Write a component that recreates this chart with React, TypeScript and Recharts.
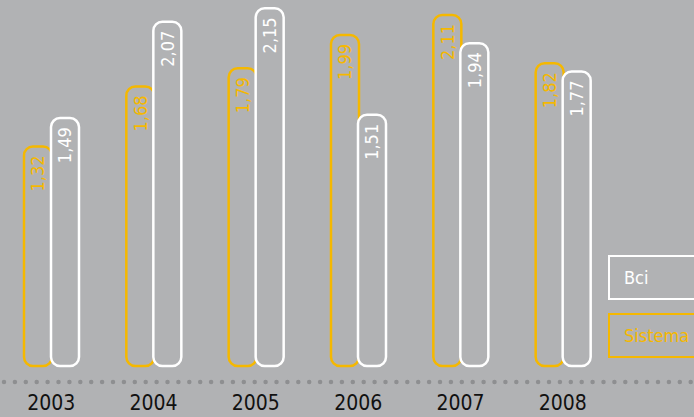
import { Bar, BarChart, Customized, LabelList, XAxis, YAxis } from 'recharts'

const years = ['2003', '2004', '2005', '2006', '2007', '2008']
const sistema = [1.32, 1.68, 1.79, 1.99, 2.11, 1.82]
const bci = [1.49, 2.07, 2.15, 1.51, 1.94, 1.77]

const data = years.map((year, i) => ({ year, sistema: sistema[i], bci: bci[i] }))

const W = 694
const H = 417
const AXIS_H = 51
const BG = '#b1b2b4'
const YELLOW = '#f5b800'
const WHITE = '#ffffff'
const FONT = '"Liberation Sans Narrow", "DejaVu Sans Condensed", Roboto, sans-serif'

const fmt = (v: number) => v.toFixed(2).replace('.', ',')

function VerticalLabel(color: string) {
  return (props: any) => {
    const { x, y, width, value } = props
    const cx = x + width / 2
    const top = y + 9
    return (
      <text
        x={cx}
        y={top}
        transform={`rotate(-90 ${cx} ${top})`}
        textAnchor="end"
        dominantBaseline="central"
        fill={color}
        fontSize={18}
        fontFamily={FONT}
      >
        {fmt(value)}
      </text>
    )
  }
}

function YearTick({ x, y, payload }: any) {
  return (
    <text x={x} y={y + 36} textAnchor="middle" fill="#111" fontSize={21} fontFamily={FONT}>
      {payload.value}
    </text>
  )
}

// dotted baseline runs across the whole picture, not just the plot area
function DottedLine() {
  const y = H - AXIS_H + 16
  return (
    <line
      x1={4}
      x2={W}
      y1={y}
      y2={y}
      stroke="#8e8f91"
      strokeWidth={4.5}
      strokeLinecap="round"
      strokeDasharray="0 10.9"
    />
  )
}

function LegendBoxes() {
  const box = (label: string, color: string, top: number) => (
    <div
      style={{
        position: 'absolute',
        left: 608,
        top,
        width: 100,
        height: 45,
        border: `2px solid ${color}`,
        boxSizing: 'border-box',
        color,
        fontFamily: FONT,
        fontSize: 18,
        lineHeight: '41px',
        paddingLeft: 14,
      }}
    >
      {label}
    </div>
  )
  return (
    <>
      {box('Bci', WHITE, 255)}
      {box('Sistema', YELLOW, 313)}
    </>
  )
}

export default function App() {
  return (
    <div
      style={{
        position: 'absolute',
        left: 0,
        top: 0,
        width: W,
        height: H,
        background: BG,
        overflow: 'hidden',
      }}
    >
      <BarChart
        width={W}
        height={H}
        data={data}
        margin={{ top: 0, right: 80, left: 0, bottom: 0 }}
        barGap={-1}
        barCategoryGap={0}
      >
        <YAxis hide domain={[0, 2.2]} />
        <XAxis
          dataKey="year"
          height={AXIS_H}
          axisLine={false}
          tickLine={false}
          tick={<YearTick />}
          interval={0}
        />
        <Customized component={DottedLine} />
        <Bar
          dataKey="sistema"
          name="Sistema"
          barSize={28}
          fill={BG}
          stroke={YELLOW}
          strokeWidth={2.5}
          radius={9}
          isAnimationActive={false}
        >
          <LabelList dataKey="sistema" content={VerticalLabel(YELLOW)} />
        </Bar>
        <Bar
          dataKey="bci"
          name="Bci"
          barSize={28}
          fill={BG}
          stroke={WHITE}
          strokeWidth={2.5}
          radius={9}
          isAnimationActive={false}
        >
          <LabelList dataKey="bci" content={VerticalLabel(WHITE)} />
        </Bar>
      </BarChart>
      <LegendBoxes />
    </div>
  )
}
